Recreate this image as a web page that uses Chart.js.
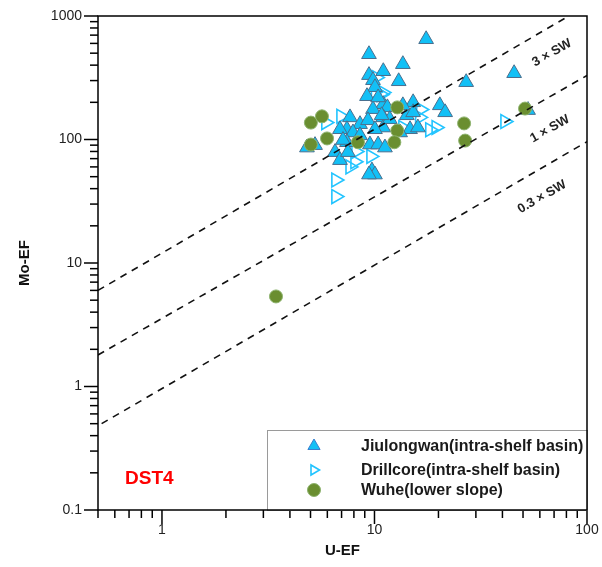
<!DOCTYPE html>
<html>
<head>
<meta charset="utf-8">
<script src="https://cdn.jsdelivr.net/npm/chart.js@4.4.0/dist/chart.umd.min.js"></script>
<style>
  html, body { margin: 0; padding: 0; background: #fff; }
</style>
</head>
<body>
<canvas id="myChart" width="602" height="567"></canvas>
<script>
// Jiulongwan (intra-shelf basin)
var jiuU = [17.5, 9.42, 13.6, 11.0, 9.42, 9.84, 10.05, 13.0, 9.22, 11.0,
            15.2, 9.84, 11.5, 7.67, 8.55, 9.32, 11.0, 14.2, 14.7, 16.0,
            7.42, 7.92, 11.0, 27.0, 45.4, 52.8, 20.3, 21.5, 4.81, 5.25,
            6.88, 8.55, 7.42, 6.52, 6.88, 7.50, 9.52, 10.4, 11.2, 9.73,
            10.05, 9.42, 11.8, 10.8, 13.6, 15.2, 13.2, 10.05, 10.4, 7.11];
var jiuMo = [648, 490, 407, 357, 332, 302, 265, 296, 224, 193,
             200, 176, 182, 151, 133, 143, 151, 157, 121, 125,
             121, 114, 125, 291, 344, 173, 189, 166, 86, 90,
             121, 108, 95, 79, 68, 79, 91, 91, 86, 56,
             52, 52, 146, 157, 189, 166, 114, 121, 219, 99];

// Drillcore (intra-shelf basin)
var drillU = [5.9, 10.95, 10.1, 10.2, 10.75, 6.95, 8.18, 8.09, 7.67, 9.62,
              6.58, 6.58, 16.3, 16.5, 18.2, 19.5, 41.1, 13.6];
var drillMo = [137, 240, 245, 318, 231, 154, 80, 66, 60, 73,
               47, 34.5, 151, 175, 120, 125, 140, 125];

// Wuhe (lower slope)
var wuheU = [3.44, 5.02, 5.66, 5.98, 5.02, 8.36, 12.8, 12.8, 12.4, 26.4, 26.7, 51.1];
var wuheMo = [5.36, 137, 154, 102, 91, 95, 182, 118, 95, 135, 98, 178];

// seawater Mo/U reference lines (end points)
var sw3Line = [{x: 0.5, y: 6.0}, {x: 100, y: 1220}];
var sw1Line = [{x: 0.5, y: 1.8}, {x: 100, y: 330}];
var sw03Line = [{x: 0.52, y: 0.5}, {x: 100, y: 96}];

var xTicks = [0.5, 0.6, 0.7, 0.8, 0.9, 1, 2, 3, 4, 5, 6, 7, 8, 9,
              10, 20, 30, 40, 50, 60, 70, 80, 90, 100];
var yTicks = [0.1, 0.2, 0.3, 0.4, 0.5, 0.6, 0.7, 0.8, 0.9, 1, 2, 3, 4, 5, 6, 7, 8, 9,
              10, 20, 30, 40, 50, 60, 70, 80, 90, 100, 200, 300, 400, 500, 600, 700, 800, 900, 1000];

var legendNames = ['Jiulongwan(intra-shelf basin)', 'Drillcore(intra-shelf basin)', 'Wuhe(lower slope)'];

var FONT = '"Liberation Sans", Arial, sans-serif';
Chart.defaults.font.family = FONT;

function pairs(xs, ys) {
  return xs.map(function (v, i) { return {x: v, y: ys[i]}; });
}
function isDecade(v) {
  var l = Math.log10(v);
  return Math.abs(l - Math.round(l)) < 1e-6;
}

var triColor = '#12C0F6', triEdge = '#4A6F8E';
var openColor = '#22C4FF';
var greenColor = '#6A8E30', greenEdge = '#8DB36E';

var decor = {
  id: 'decor',
  afterDraw: function (chart) {
    var ctx = chart.ctx, a = chart.chartArea, sx = chart.scales.x, sy = chart.scales.y;
    ctx.save();
    ctx.strokeStyle = '#000';
    ctx.lineWidth = 1.5;
    sx.ticks.forEach(function (t) {
      var px = sx.getPixelForValue(t.value);
      var len = isDecade(t.value) ? 14 : 8;
      ctx.beginPath(); ctx.moveTo(px, a.bottom); ctx.lineTo(px, a.bottom + len); ctx.stroke();
    });
    sy.ticks.forEach(function (t) {
      var py = sy.getPixelForValue(t.value);
      var len = isDecade(t.value) ? 14 : 8;
      ctx.beginPath(); ctx.moveTo(a.left, py); ctx.lineTo(a.left - len, py); ctx.stroke();
    });

    // SW labels along the lines
    ctx.fillStyle = '#222';
    ctx.font = 'bold 13px ' + FONT;
    ctx.textAlign = 'center';
    ctx.textBaseline = 'middle';
    var ang = Math.atan2(sy.getPixelForValue(330) - sy.getPixelForValue(1.8),
                         sx.getPixelForValue(100) - sx.getPixelForValue(0.5));
    [['3 \u00d7 SW', 552, 53], ['1 \u00d7 SW', 550, 129], ['0.3 \u00d7 SW', 542, 197]].forEach(function (l) {
      ctx.save();
      ctx.translate(l[1], l[2]);
      ctx.rotate(ang);
      ctx.fillText(l[0], 0, 0);
      ctx.restore();
    });

    // DST4 tag
    ctx.fillStyle = '#FF0000';
    ctx.font = 'bold 19px ' + FONT;
    ctx.textAlign = 'left';
    ctx.fillText('DST4', 125, 479);

    // legend box
    var lw = 320, lh = 80;
    var lx = a.right - lw, ly = a.bottom - lh;
    ctx.fillStyle = '#fff';
    ctx.fillRect(lx, ly, lw, lh);
    ctx.strokeStyle = '#9a9a9a';
    ctx.lineWidth = 1;
    ctx.strokeRect(lx + 0.5, ly + 0.5, lw, lh);
    var mx = lx + 47, rows = [ly + 16, ly + 40, ly + 60];
    // triangle
    ctx.beginPath();
    ctx.moveTo(mx, rows[0] - 7);
    ctx.lineTo(mx + 6.1, rows[0] + 3.5);
    ctx.lineTo(mx - 6.1, rows[0] + 3.5);
    ctx.closePath();
    ctx.fillStyle = triColor; ctx.fill();
    ctx.strokeStyle = '#3a7fd0'; ctx.lineWidth = 1; ctx.stroke();
    // open triangle
    ctx.beginPath();
    ctx.moveTo(mx + 5.5, rows[1]);
    ctx.lineTo(mx - 3, rows[1] - 5);
    ctx.lineTo(mx - 3, rows[1] + 5);
    ctx.closePath();
    ctx.strokeStyle = openColor; ctx.lineWidth = 1.6; ctx.stroke();
    // circle
    ctx.beginPath();
    ctx.arc(mx, rows[2], 6.5, 0, Math.PI * 2);
    ctx.fillStyle = greenColor; ctx.fill();
    ctx.strokeStyle = greenEdge; ctx.lineWidth = 1; ctx.stroke();

    ctx.fillStyle = '#1a1a1a';
    ctx.font = 'bold 16px ' + FONT;
    ctx.textAlign = 'left';
    legendNames.forEach(function (n, i) { ctx.fillText(n, lx + 94, rows[i] + 1); });

    // frame
    ctx.strokeStyle = '#000';
    ctx.lineWidth = 1.5;
    ctx.strokeRect(a.left, a.top, a.right - a.left, a.bottom - a.top);
    ctx.restore();
  }
};

var ctx = document.getElementById('myChart').getContext('2d');
var myChart = new Chart(ctx, {
  type: 'scatter',
  data: {
    datasets: [{
        label: '3 x SW', data: sw3Line, showLine: true, fill: false,
        borderColor: '#111', borderWidth: 1.6, borderDash: [7, 6], pointRadius: 0, order: 0
      }, {
        label: '1 x SW', data: sw1Line, showLine: true, fill: false,
        borderColor: '#111', borderWidth: 1.6, borderDash: [7, 6], pointRadius: 0, order: 0
      }, {
        label: '0.3 x SW', data: sw03Line, showLine: true, fill: false,
        borderColor: '#111', borderWidth: 1.6, borderDash: [7, 6], pointRadius: 0, order: 0
      }, {
        label: legendNames[2], data: pairs(wuheU, wuheMo),
        pointStyle: 'circle', pointRadius: 6.5,
        backgroundColor: greenColor, borderColor: greenEdge, borderWidth: 1, order: 1
      }, {
        label: legendNames[0], data: pairs(jiuU, jiuMo),
        pointStyle: 'triangle', pointRadius: 8.5,
        backgroundColor: triColor, borderColor: triEdge, borderWidth: 1, order: 2
      }, {
        label: legendNames[1], data: pairs(drillU, drillMo),
        pointStyle: 'triangle', pointRotation: 90, pointRadius: 8,
        backgroundColor: 'rgba(255,255,255,0)', borderColor: openColor, borderWidth: 1.6, order: 3
      }
    ]
  },
  options: {
    responsive: false,
    animation: false,
    events: [],
    layout: { padding: { top: 16, right: 15, left: 0, bottom: 0 } },
    plugins: {
      legend: { display: false },
      tooltip: { enabled: false }
    },
    scales: {
      x: {
        type: 'logarithmic', min: 0.5, max: 100,
        grid: { display: false, drawTicks: false },
        border: { display: false },
        afterBuildTicks: function (s) { s.ticks = xTicks.map(function (v) { return {value: v}; }); },
        afterFit: function (s) { s.height = 57; s.paddingLeft = 0; s.paddingRight = 0; },
        ticks: {
          autoSkip: false, maxRotation: 0, padding: 12, color: '#222',
          font: { size: 14 },
          callback: function (v) { return isDecade(v) ? String(v) : ''; }
        },
        title: {
          display: true, text: 'U-EF', color: '#111',
          font: { size: 15, weight: 'bold' }, padding: { top: 0, bottom: 7 }
        }
      },
      y: {
        type: 'logarithmic', min: 0.1, max: 1000,
        grid: { display: false, drawTicks: false },
        border: { display: false },
        afterBuildTicks: function (s) { s.ticks = yTicks.map(function (v) { return {value: v}; }); },
        afterFit: function (s) { s.width = 98; s.paddingTop = 0; s.paddingBottom = 0; },
        ticks: {
          autoSkip: false, padding: 16, color: '#222',
          font: { size: 14 },
          callback: function (v) { return isDecade(v) ? String(v) : ''; }
        },
        title: {
          display: true, text: 'Mo-EF', color: '#111',
          font: { size: 15, weight: 'bold' }, padding: { top: 16, bottom: 0 }
        }
      }
    }
  },
  plugins: [decor]
});
</script>
</body>
</html>
